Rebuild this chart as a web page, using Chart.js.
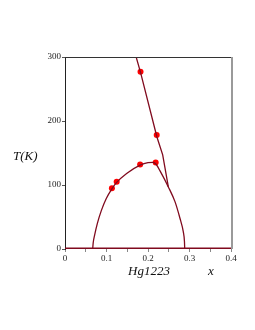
<!DOCTYPE html>
<html>
<head>
<meta charset="utf-8">
<script src="https://cdn.jsdelivr.net/npm/chart.js@4"></script>
<style>
  html, body { margin: 0; padding: 0; background: #fff; }
  #wrap { width: 255px; height: 330px; }
</style>
</head>
<body>
<div id="wrap"><canvas id="myChart" width="255" height="330"></canvas></div>
<script>
// data
var domeX = [0.0667, 0.068, 0.0715, 0.078, 0.0875, 0.0995, 0.113, 0.1245, 0.1485, 0.181, 0.2, 0.212, 0.22, 0.229, 0.249, 0.265, 0.277, 0.285, 0.2878, 0.2885];
var domeT = [0, 10, 22, 40, 60, 79, 94, 104, 118, 131, 135, 135.5, 132, 122, 97, 74, 48, 27, 12, 0];
var lineX = [0.171, 0.182, 0.2215, 0.2354, 0.249];
var lineT = [301, 276, 175, 147, 97];
var dotX = [0.113, 0.1245, 0.181, 0.2185, 0.182, 0.221];
var dotT = [95, 105, 132, 135, 277, 178];
var baseX = [0, 0.4];
var baseT = [0, 0];

function pts(xs, ys) {
    return xs.map(function (x, i) { return { x: x, y: ys[i] }; });
}

var curveColor = 'rgb(128, 10, 30)';

// frame + axis labels
var extras = {
    id: 'extras',
    afterDraw: function (chart) {
        var c = chart.ctx;
        var a = chart.chartArea;
        c.save();
        c.strokeStyle = '#333';
        c.lineWidth = 1;
        c.beginPath();
        c.moveTo(a.left, a.top + 0.5);
        c.lineTo(a.right, a.top + 0.5);
        c.stroke();
        c.strokeStyle = '#9a9a9a';
        c.lineWidth = 2;
        c.beginPath();
        c.moveTo(a.right + 1, a.top);
        c.lineTo(a.right + 1, a.bottom);
        c.stroke();
        c.fillStyle = '#111';
        c.font = 'italic 13px "Liberation Serif"';
        c.textBaseline = 'alphabetic';
        c.fillText('T(K)', 13, 160);
        c.fillText('Hg1223', 128, 275);
        c.fillText('x', 208, 275);
        c.restore();
    }
};

const ctx = document.getElementById('myChart');

new Chart(ctx, {
    type: 'scatter',
    data: {
        datasets: [
            {
                data: pts(baseX, baseT),
                showLine: true,
                borderColor: curveColor,
                borderWidth: 3,
                pointRadius: 0
            },
            {
                data: pts(domeX, domeT),
                showLine: true,
                borderColor: curveColor,
                borderWidth: 1.3,
                pointRadius: 0,
                cubicInterpolationMode: 'monotone'
            },
            {
                data: pts(lineX, lineT),
                showLine: true,
                borderColor: curveColor,
                borderWidth: 1.3,
                pointRadius: 0
            },
            {
                data: pts(dotX, dotT),
                showLine: false,
                backgroundColor: 'rgb(255, 0, 0)',
                borderColor: 'rgb(255, 0, 0)',
                pointRadius: 3,
                borderWidth: 0
            }
        ]
    },
    options: {
        responsive: false,
        animation: false,
        layout: { padding: { top: 57, right: 24, left: 0, bottom: 0 } },
        plugins: { legend: { display: false }, tooltip: { enabled: false } },
        scales: {
            x: {
                type: 'linear',
                min: 0,
                max: 0.4,
                afterFit: function (s) { s.height = 81; },
                grid: { drawOnChartArea: false, drawTicks: true, tickLength: 3, color: '#888' },
                border: { display: false },
                ticks: {
                    stepSize: 0.05,
                    autoSkip: false,
                    maxRotation: 0,
                    padding: 1,
                    color: '#222',
                    font: { family: '"Liberation Serif"', size: 9 },
                    callback: function (v) {
                        var r = Math.round(v * 100);
                        if (r % 10 !== 0) return '';
                        return r === 0 ? '0' : (r / 100).toString();
                    }
                }
            },
            y: {
                min: 0,
                max: 300,
                afterFit: function (s) { s.width = 65; },
                grid: { drawOnChartArea: false, drawTicks: true, tickLength: 3, color: '#555' },
                border: { display: true, color: '#222', width: 1 },
                ticks: {
                    stepSize: 100,
                    padding: 1,
                    color: '#222',
                    font: { family: '"Liberation Serif"', size: 9 }
                }
            }
        }
    },
    plugins: [extras]
});
</script>
</body>
</html>
